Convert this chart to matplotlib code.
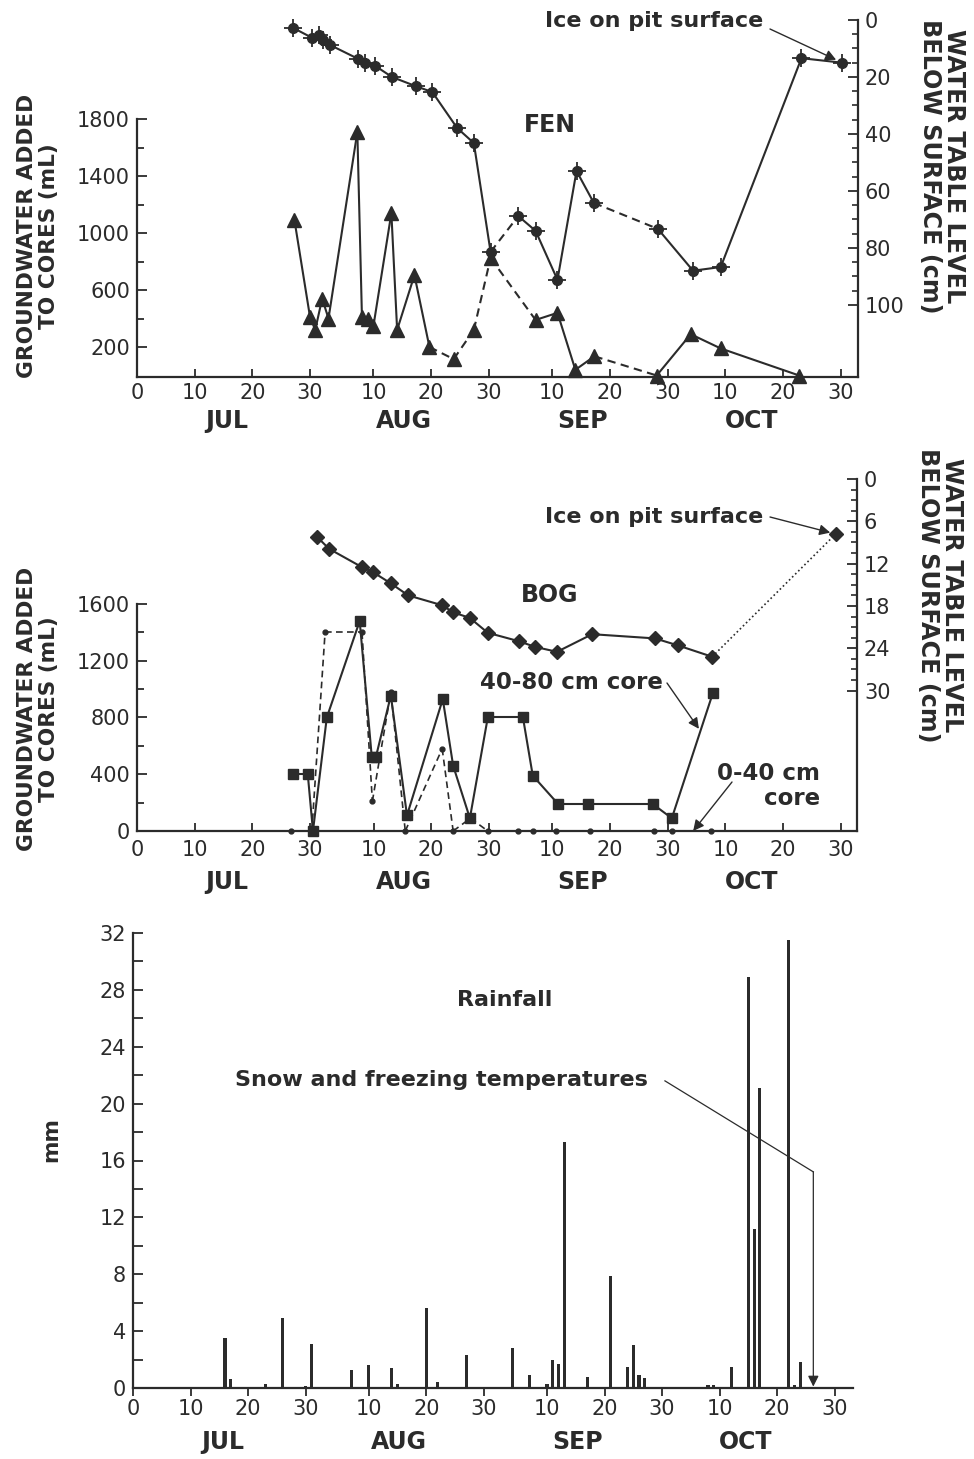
import numpy as np
import matplotlib
matplotlib.use("Agg")
import matplotlib.pyplot as plt

plt.rcParams['font.family'] = ['DejaVu Sans']

INK = '#2b2b2b'

# ---------------- data (x = day count, Jul 0 = 0) ----------------
xtick_pos = [0, 10, 20, 30, 41, 51, 61, 72, 82, 92, 102, 112, 122]
xtick_labels = ['0', '10', '20', '30', '10', '20', '30', '10', '20', '30', '10', '20', '30']
month_names = ['JUL', 'AUG', 'SEP', 'OCT']
month_pos = [15.6, 46.2, 77.3, 106.5]

# FEN groundwater added (mL), triangles
fen_gw_days = [27.3, 30.0, 30.9, 32.1, 33.2, 38.2, 39.0, 40.1, 41.0, 44.1, 45.1, 48.1,
               50.7, 54.9, 58.4, 61.3, 69.1, 72.9, 76.0, 79.3, 90.1, 96.0, 101.2, 114.8]
fen_gw_ml = [1090, 410, 320, 540, 400, 1710, 410, 395, 350, 1140, 320, 705,
             200, 115, 320, 825, 390, 440, 40, 135, 0, 290, 190, 0]
fen_gw_segs = "s" * 12 + "d" * 4 + "s" * 3 + "d" + "s" * 3

# FEN water table (cm below surface), stars
fen_wt_days = [27.1, 30.4, 31.5, 32.3, 33.5, 38.4, 39.6, 41.3, 44.2, 48.3, 51.2, 55.5,
               58.4, 61.3, 66.1, 69.1, 72.9, 76.2, 79.2, 90.3, 96.4, 101.2, 115.2, 122.3]
fen_wt_cm = [2.8, 6.3, 5.3, 7.0, 8.8, 13.7, 15.1, 16.1, 20.0, 23.2, 25.3, 37.9,
             43.2, 81.4, 68.8, 74.0, 91.2, 53.0, 64.2, 73.3, 88.0, 86.7, 13.4, 15.0]
fen_wt_segs = "s" * 13 + "d" + "s" * 4 + "d" + "s" * 4

fen_left_major = [200, 600, 1000, 1400, 1800]
fen_left_minor = [400, 800, 1200, 1600]
fen_right_major = [0, 20, 40, 60, 80, 100]
fen_right_minor = [5, 10, 15, 25, 30, 35, 45, 50, 55, 65, 70, 75, 85, 90, 95]

# BOG 40-80 cm core (mL), squares
bog_deep_days = [27.0, 29.6, 30.5, 32.9, 38.6, 40.7, 41.4, 44.0, 46.8, 53.0, 54.8, 57.7,
                 60.8, 66.9, 68.6, 73.0, 78.2, 89.4, 92.7, 99.8]
bog_deep_ml = [400, 400, 0, 800, 1480, 520, 520, 955, 110, 930, 460, 90,
               800, 800, 390, 190, 190, 190, 90, 970]

# BOG 0-40 cm core (mL), small dots
bog_shal_days = [26.7, 30.3, 32.6, 39.0, 40.8, 44.0, 46.5, 52.9, 54.8, 57.8, 60.8,
                 66.0, 68.6, 72.6, 78.6, 89.6, 92.7, 99.5]
bog_shal_ml = [0, 0, 1400, 1400, 210, 980, 0, 580, 0, 90, 0,
               0, 0, 0, 0, 0, 0, 0]

# BOG water table (cm), diamonds
bog_wt_days = [31.2, 33.3, 39.0, 40.9, 44.0, 47.0, 52.9, 54.8, 57.7, 60.8, 66.2, 69.0,
               72.8, 78.9, 89.8, 93.8, 99.7, 121.1]
bog_wt_cm = [8.2, 9.9, 12.5, 13.2, 14.8, 16.5, 17.9, 18.9, 19.7, 21.8, 23.0, 23.8,
             24.5, 22.0, 22.6, 23.6, 25.2, 7.8]
bog_wt_segs = "s" * 16 + "o"

bog_left_major = [0, 400, 800, 1200, 1600]
bog_left_minor = [200, 600, 1000, 1400]
bog_right_major = [0, 6, 12, 18, 24, 30]
bog_right_minor = [1.5, 3, 4.5, 7.5, 9, 10.5, 13.5, 15, 16.5, 19.5, 21, 22.5, 25.5, 27, 28.5]

# Rainfall (mm)
rain_days = [16, 17, 23, 26, 30, 31, 38, 41, 45, 46, 51, 52, 53, 58, 66, 69,
             72, 73, 74, 75, 79, 83, 86, 87, 88, 89, 100, 101, 104, 107, 108, 109,
             114, 115, 116]
rain_mm = [3.5, 0.65, 0.3, 4.9, 0.15, 3.1, 1.3, 1.6, 1.4, 0.3, 5.6, 0.1, 0.4, 2.3, 2.8, 0.9,
           0.3, 2.0, 1.7, 17.3, 0.8, 7.9, 1.5, 3.0, 0.9, 0.7, 0.2, 0.2, 1.5, 28.9, 11.2, 21.1,
           31.5, 0.2, 1.8]
rain_major = [0, 4, 8, 12, 16, 20, 24, 28, 32]
rain_minor = [2, 6, 10, 14, 18, 22, 26, 30]
snow_day = 118.3

# ---------------- figure ----------------
W, H = 974, 1459
fig = plt.figure(figsize=(W / 100, H / 100), dpi=100)
fig.patch.set_facecolor('white')


def px_axes(l, t, r, b):
    return [l / W, 1 - b / H, (r - l) / W, (b - t) / H]


def fxy(x, y):
    return (x / W, 1 - y / H)


STY = {'s': '-', 'd': (0, (4, 2.6)), 'o': (0, (1, 1.6))}


def draw_series(axis, xs, ys, segs, mk_list, lw=1.5):
    for i, c in enumerate(segs):
        axis.plot(xs[i:i + 2], ys[i:i + 2], color=INK, lw=lw if c != 'o' else 1.2,
                  linestyle=STY[c], clip_on=False, zorder=3)
    for mk in mk_list:
        axis.plot(xs, ys, ls='none', color=INK, clip_on=False, zorder=4, **mk)


def style_common(axis):
    for s in axis.spines.values():
        s.set_linewidth(1.6)
        s.set_color(INK)


TICKFS = 15
LABFS = 15.6
RLABFS = 17.2
MONFS = 17


def setup_panel(ax, ax2, xmax, ylim_l, ylim_r, lmaj, lmin, lbound, rmaj, rmin, xpad):
    ax.set_xlim(0, xmax)
    ax.set_ylim(*ylim_l)
    ax2.set_ylim(*ylim_r)
    style_common(ax)
    style_common(ax2)
    ax.spines['top'].set_visible(False)
    ax.spines['right'].set_visible(False)
    ax.spines['left'].set_bounds(ylim_l[0], lbound)
    for k in ['top', 'left', 'bottom']:
        ax2.spines[k].set_visible(False)
    ax.set_xticks(xtick_pos)
    ax.set_xticklabels(xtick_labels)
    ax.tick_params(axis='x', direction='in', length=6, width=1.3, pad=xpad,
                   labelsize=TICKFS, colors=INK)
    ax.set_yticks(lmaj)
    ax.set_yticks(lmin, minor=True)
    ax.tick_params(axis='y', which='major', direction='in', length=7, width=1.3, pad=5,
                   labelsize=TICKFS, colors=INK)
    ax.tick_params(axis='y', which='minor', direction='in', length=5, width=1.3, colors=INK)
    ax2.set_yticks(rmaj)
    ax2.set_yticks(rmin, minor=True)
    ax2.tick_params(axis='y', which='major', direction='in', length=7, width=1.3, pad=5,
                    labelsize=TICKFS, colors=INK)
    ax2.tick_params(axis='y', which='minor', direction='in', length=4, width=1.2, colors=INK)
    ax.patch.set_visible(False)
    ax2.patch.set_visible(False)


def month_labels(ax, off_pts):
    for name, p in zip(month_names, month_pos):
        ax.annotate(name, xy=(p, 0), xycoords=('data', 'axes fraction'),
                    xytext=(0, -off_pts), textcoords='offset points',
                    ha='center', va='center', fontsize=MONFS, fontweight='bold', color=INK)


ARROW = dict(arrowstyle='-|>', color=INK, lw=1.0, mutation_scale=16)

# ---------- FEN ----------
axF = fig.add_axes(px_axes(137, 20, 858, 377))
axF2 = axF.twinx()
setup_panel(axF, axF2, 125, (-10.5, 2496), (125.3, 0), fen_left_major, fen_left_minor, 1800,
            fen_right_major, fen_right_minor, 4)
draw_series(axF, fen_gw_days, fen_gw_ml, fen_gw_segs, [dict(marker='^', ms=9.5)])
draw_series(axF2, fen_wt_days, fen_wt_cm, fen_wt_segs,
            [dict(marker='o', ms=7), dict(marker='+', ms=13.5, mew=1.3)])
month_labels(axF, 32)

fig.text(*fxy(550, 125), 'FEN', ha='center', va='center', fontsize=17,
         fontweight='bold', color=INK)
fig.text(*fxy(763, 27), 'Ice on pit surface', ha='right', va='baseline', fontsize=16,
         fontweight='bold', color=INK)
axF2.annotate('', xy=(fen_wt_days[-1], fen_wt_cm[-1]), xycoords='data',
              xytext=fxy(770, 29), textcoords='figure fraction',
              arrowprops=dict(ARROW, shrinkA=0, shrinkB=5))

fig.text(*fxy(38, 236), 'GROUNDWATER ADDED\nTO CORES (mL)', rotation=90, ha='center',
         va='center', fontsize=LABFS, fontweight='bold', color=INK, linespacing=1.15,
         multialignment='center')
fig.text(*fxy(942, 166), 'WATER TABLE LEVEL\nBELOW SURFACE (cm)', rotation=-90,
         ha='center', va='center', fontsize=RLABFS, fontweight='bold', color=INK,
         linespacing=1.05, multialignment='center')

# ---------- BOG ----------
axB = fig.add_axes(px_axes(137, 479, 857, 831))
axB2 = axB.twinx()
setup_panel(axB, axB2, 124.8, (0, 2481), (49.9, 0), bog_left_major, bog_left_minor, 1600,
            bog_right_major, bog_right_minor, 6.5)
draw_series(axB, bog_shal_days, bog_shal_ml, "d" * (len(bog_shal_days) - 1),
            [dict(marker='o', ms=3.5)], lw=1.2)
draw_series(axB, bog_deep_days, bog_deep_ml, "s" * (len(bog_deep_days) - 1),
            [dict(marker='s', ms=7.5)])
draw_series(axB2, bog_wt_days, bog_wt_cm, bog_wt_segs, [dict(marker='D', ms=7)])
month_labels(axB, 37)

fig.text(*fxy(550, 595), 'BOG', ha='center', va='center', fontsize=17,
         fontweight='bold', color=INK)
fig.text(*fxy(763, 523), 'Ice on pit surface', ha='right', va='baseline', fontsize=16,
         fontweight='bold', color=INK)
axB2.annotate('', xy=(bog_wt_days[-1], bog_wt_cm[-1]), xycoords='data',
              xytext=fxy(770, 517), textcoords='figure fraction',
              arrowprops=dict(ARROW, shrinkA=0, shrinkB=4))
fig.text(*fxy(663, 689), '40-80 cm core', ha='right', va='baseline', fontsize=16.5,
         fontweight='bold', color=INK)
axB.annotate('', xy=(97.4, 720), xycoords='data', xytext=fxy(667, 683),
             textcoords='figure fraction', arrowprops=dict(ARROW, shrinkA=0, shrinkB=0))
fig.text(*fxy(820, 780), '0-40 cm', ha='right', va='baseline', fontsize=16.5,
         fontweight='bold', color=INK)
fig.text(*fxy(820, 805), 'core', ha='right', va='baseline', fontsize=16.5,
         fontweight='bold', color=INK)
axB.annotate('', xy=(96.4, 0), xycoords='data', xytext=fxy(732, 782),
             textcoords='figure fraction', arrowprops=dict(ARROW, shrinkA=0, shrinkB=0))

fig.text(*fxy(38, 709), 'GROUNDWATER ADDED\nTO CORES (mL)', rotation=90, ha='center',
         va='center', fontsize=LABFS, fontweight='bold', color=INK, linespacing=1.15,
         multialignment='center')
fig.text(*fxy(940, 595), 'WATER TABLE LEVEL\nBELOW SURFACE (cm)', rotation=-90,
         ha='center', va='center', fontsize=RLABFS, fontweight='bold', color=INK,
         linespacing=1.05, multialignment='center')

# ---------- RAINFALL ----------
axR = fig.add_axes(px_axes(133, 933, 853, 1388))
axR.set_xlim(0, 125.2)
axR.set_ylim(0, 32)
style_common(axR)
axR.spines['top'].set_visible(False)
axR.spines['right'].set_visible(False)
axR.bar(rain_days, rain_mm, width=0.55, color=INK, align='center', zorder=3)
axR.set_xticks(xtick_pos)
axR.set_xticklabels(xtick_labels)
axR.tick_params(axis='x', direction='out', length=6, width=1.3, pad=2,
                labelsize=TICKFS, colors=INK)
axR.set_yticks(rain_major)
axR.set_yticks(rain_minor, minor=True)
axR.tick_params(axis='y', which='major', direction='in', length=7, width=1.3, pad=5,
                labelsize=TICKFS, colors=INK)
axR.tick_params(axis='y', which='minor', direction='in', length=7, width=1.3, colors=INK)
axR.patch.set_visible(False)
for name, p in zip(month_names, month_pos):
    axR.annotate(name, xy=(p, 0), xycoords=('data', 'axes fraction'),
                 xytext=(0, -39), textcoords='offset points',
                 ha='center', va='center', fontsize=MONFS, fontweight='bold', color=INK)

fig.text(*fxy(505, 1000), 'Rainfall', ha='center', va='center', fontsize=16,
         fontweight='bold', color=INK)
fig.text(*fxy(235, 1086), 'Snow and freezing temperatures', ha='left', va='baseline',
         fontsize=16, fontweight='bold', color=INK)
axR.plot([92.5, snow_day], [21.6, 15.2], color=INK, lw=0.9, zorder=4)
axR.annotate('', xy=(snow_day, 0.1), xycoords='data', xytext=(snow_day, 15.2),
             textcoords='data',
             arrowprops=dict(arrowstyle='-|>', color=INK, lw=0.9, mutation_scale=16,
                             shrinkA=0, shrinkB=0))
fig.text(*fxy(51, 1139), 'mm', rotation=90, ha='center', va='center', fontsize=15.5,
         fontweight='bold', color=INK)

fig.savefig('out.png', dpi=100, facecolor='white')
